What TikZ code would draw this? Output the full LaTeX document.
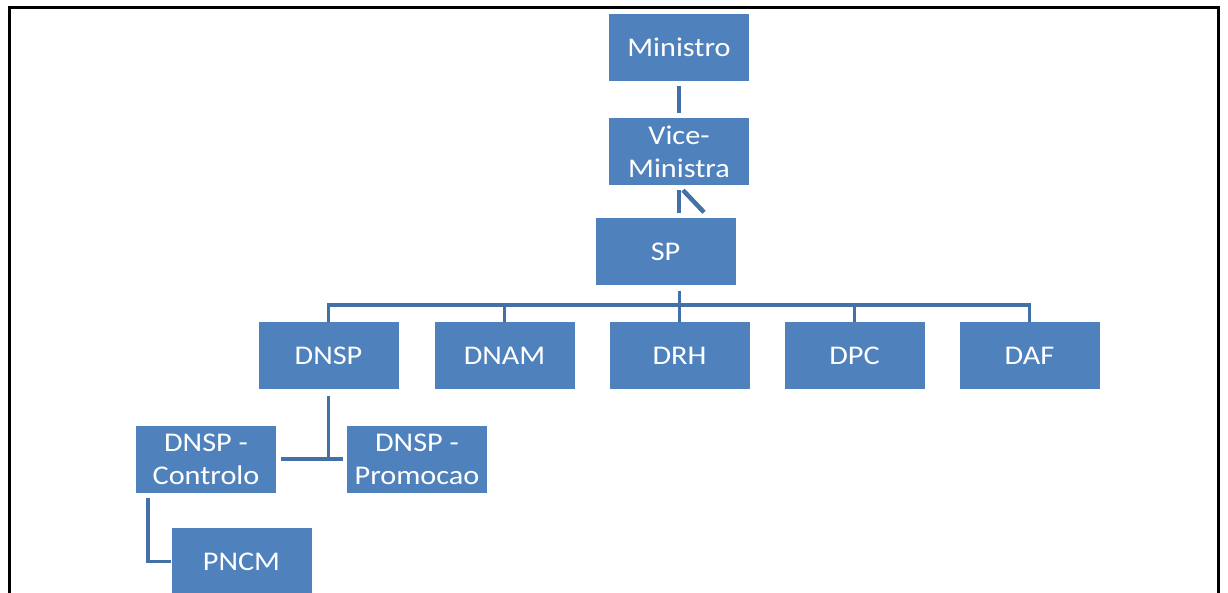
\documentclass[tikz,border=0pt]{standalone}
\usepackage{fontspec}
\setmainfont{Carlito}[FakeStretch=1.12]
\usepackage{tikz}
\usetikzlibrary{positioning,calc}

\definecolor{boxblue}{HTML}{4F81BD}
\definecolor{lineblue}{HTML}{4270A7}

\begin{document}
\begin{tikzpicture}[x=1pt,y=-1pt,
  unit/.style={fill=boxblue,text=white,minimum width=140pt,minimum height=67pt,
    inner sep=0pt,align=center,font=\fontsize{27}{33}\selectfont},
  link/.style={draw=lineblue,line width=3.6pt}]
\useasboundingbox (0,0) rectangle (1228,593);
\draw[line width=3pt] (9,600) -- (9,8) -- (1218,8) -- (1218,600);

\node[unit] (Ministro) at (679,47.5) {Ministro};
\node[unit] (Vice) at (679,151.5) {Vice-\\Ministra};
\node[unit] (SP) at (665.5,252) {SP};
\foreach \n/\x in {DNSP/328.5,DNAM/504.5,DRH/679.5,DPC/854.5,DAF/1029.5} {
  \node[unit] (\n) at (\x,355.5) {\n};
}
\node[unit] (Controlo) at (206,459) {DNSP -\\Controlo};
\node[unit] (Promocao) at (417,459) {DNSP -\\Promocao};
\node[unit] (PNCM) at (241.5,561.5) {PNCM};

\draw[link,shorten <=5pt,shorten >=5pt] (Ministro.south) -- (Vice.north);
\draw[link] ([yshift=-5pt]Vice.south) -- ([yshift=5pt]Vice.south |- SP.north);
\draw[link,line width=4.5pt] ([xshift=4pt,yshift=-5pt]Vice.south) -- ([xshift=25pt,yshift=6pt]Vice.south |- SP.north);

\draw[link] ([yshift=-5pt]SP.south -| DRH.north) -- (DRH.north);
\draw[link] (DNSP.north) -- ++(0,-17) -| (DAF.north);
\foreach \n in {DNAM,DPC} {
  \draw[link] (\n.north) -- ++(0,-17);
}

\draw[link] ([yshift=-7pt]DNSP.south) -- (DNSP.south |- Promocao.west);
\draw[link] ([xshift=5pt]Controlo.east) -- ([xshift=-4pt]Promocao.west);
\draw[link] ([xshift=-58pt,yshift=-5pt]Controlo.south) |- (PNCM.west);
\end{tikzpicture}
\end{document}
